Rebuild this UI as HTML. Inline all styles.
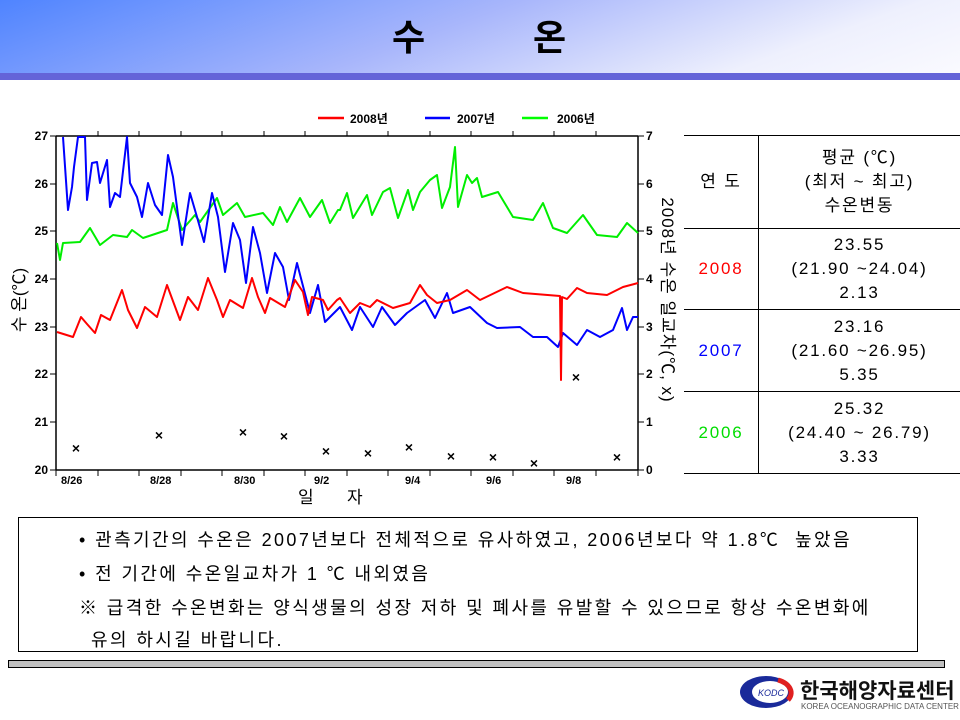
<!DOCTYPE html>
<html><head><meta charset="utf-8"><style>
body{margin:0;width:960px;height:720px;position:relative;background:#fff;overflow:hidden;font-family:"Liberation Sans","Noto Sans CJK KR",sans-serif}
.hdr{position:absolute;left:0;top:0;width:960px;height:73px;background:linear-gradient(160deg,#4f84ff 0%,#a8b6fb 45%,#eef0fd 80%,#fafaff 100%)}
.bar{position:absolute;left:0;top:73px;width:960px;height:7px;background:#6464d8}
.title{position:absolute;top:18px;font-size:36px;font-weight:bold;line-height:40px}
.box{position:absolute;left:18px;top:517px;width:900px;height:135px;border:1px solid #000;box-sizing:border-box}
.box div{position:absolute;font-size:18px;white-space:nowrap;letter-spacing:2.4px}
.gbar{position:absolute;left:8px;top:660px;width:937px;height:8px;background:#c0c0c0;border:1px solid #000;box-sizing:border-box}
table{position:absolute;left:684px;top:135px;border-collapse:collapse;width:276px;font-size:17px;letter-spacing:1.8px}
td{border-top:1px solid #000;border-bottom:1px solid #000;text-align:center;line-height:24px;padding:0}
td.l{border-right:1px solid #000;width:74px}
</style></head><body>
<div class="hdr"></div><div class="bar"></div>
<div class="title" style="left:392px">수</div><div class="title" style="left:533px">온</div>
<svg style="position:absolute;left:0;top:0" width="960" height="520" font-family="Liberation Sans,Noto Sans CJK KR,sans-serif">
<g stroke="#000" stroke-width="1.5" fill="none">
<line x1="56" y1="136" x2="56" y2="470"/><line x1="638" y1="136" x2="638" y2="470"/>
<line x1="56" y1="470" x2="638" y2="470"/><line x1="56" y1="136" x2="638" y2="136"/>
</g>
<g stroke="#000" stroke-width="1">
<path d="M98 470v6M139 470v6M181 470v6M222 470v6M264 470v6M305 470v6M347 470v6M388 470v6M430 470v6M471 470v6M513 470v6M554 470v6M596 470v6M56 470v6M638 470v6
M98 136v-5M139 136v-5M181 136v-5M222 136v-5M264 136v-5M305 136v-5M347 136v-5M388 136v-5M430 136v-5M471 136v-5M513 136v-5M554 136v-5M596 136v-5
M50 136h6M50 184h6M50 231h6M50 279h6M50 327h6M50 374h6M50 422h6M50 470h6
M638 136h6M638 184h6M638 231h6M638 279h6M638 327h6M638 374h6M638 422h6M638 470h6"/>
</g>
<g font-size="12" font-weight="bold" text-anchor="end">
<text x="48" y="140">27</text><text x="48" y="188">26</text><text x="48" y="235">25</text><text x="48" y="283">24</text><text x="48" y="331">23</text><text x="48" y="378">22</text><text x="48" y="426">21</text><text x="48" y="474">20</text>
</g>
<g font-size="12" font-weight="bold">
<text x="646" y="140">7</text><text x="646" y="188">6</text><text x="646" y="235">5</text><text x="646" y="283">4</text><text x="646" y="331">3</text><text x="646" y="378">2</text><text x="646" y="426">1</text><text x="646" y="474">0</text>
</g>
<g font-size="11" font-weight="bold">
<text x="61" y="484">8/26</text><text x="150" y="484">8/28</text><text x="234" y="484">8/30</text><text x="314" y="484">9/2</text><text x="405" y="484">9/4</text><text x="486" y="484">9/6</text><text x="566" y="484">9/8</text>
</g>
<text x="298" y="503" font-size="17">일</text><text x="347" y="503" font-size="17">자</text>
<text transform="translate(25,300) rotate(-90)" font-size="17" text-anchor="middle">수 온(℃)</text>
<text transform="translate(662,300) rotate(90)" font-size="17" text-anchor="middle" letter-spacing="1">2008년 수온 일교차(℃, x)</text>
<g stroke-width="2.5"><line x1="318" y1="118" x2="344" y2="118" stroke="#f00"/><line x1="425" y1="118" x2="450" y2="118" stroke="#00f"/><line x1="522" y1="118" x2="548" y2="118" stroke="#0f0"/></g>
<g font-size="12" font-weight="bold"><text x="350" y="123">2008년</text><text x="457" y="123">2007년</text><text x="557" y="123">2006년</text></g>
<g fill="none" stroke-width="2" stroke-linejoin="round">
<polyline stroke="#0e0" points="57,243 60,260 63,243 80,242 90,228 100,245 113,235 127,237 132,230 143,238 167,230 173,203 182,230 195,215 200,222 217,198 223,215 237,203 245,217 263,213 273,225 280,207 287,222 300,198 310,217 322,200 330,223 338,210 340,210 347,193 353,218 367,195 372,215 383,192 390,188 398,218 408,190 413,210 420,192 430,180 437,175 442,208 450,187 455,147 458,207 467,175 472,183 477,178 482,197 498,192 513,217 533,220 543,203 553,228 567,233 583,215 597,235 617,237 627,223 638,233"/>
<polyline stroke="#00f" points="63,137 68,210 72,187 74,167 78,137 85,137 87,200 92,163 97,162 100,183 107,160 110,207 115,193 120,197 127,137 130,183 137,197 142,217 148,183 155,205 162,215 168,155 173,177 182,245 190,193 197,217 204,242 212,193 218,217 225,272 233,223 240,240 246,283 253,227 260,253 267,293 275,253 283,267 289,300 297,263 310,313 318,285 325,322 337,310 340,307 352,330 360,307 373,327 382,307 395,325 407,313 425,300 435,318 447,293 453,313 470,307 487,323 497,328 520,327 533,337 547,337 558,347 563,333 577,345 587,330 600,337 613,330 622,308 627,330 633,317 638,317"/>
<polyline stroke="#f00" points="57,332 73,337 81,317 87,324 95,333 101,315 110,320 122,290 128,310 137,328 145,307 157,317 167,285 180,320 188,297 198,310 208,278 217,300 223,317 230,300 243,308 252,278 258,297 265,313 270,298 285,307 295,280 303,292 308,315 312,297 323,300 328,310 337,300 340,298 350,313 360,303 370,307 377,300 393,308 410,303 420,285 427,295 437,303 450,300 467,290 480,300 507,287 523,293 560,296 561,380 562,297 567,299 577,288 587,293 607,295 623,287 638,283"/>
</g>
<g font-size="14" font-weight="bold" text-anchor="middle">
<text x="76" y="453">×</text><text x="159" y="440">×</text><text x="243" y="437">×</text><text x="284" y="441">×</text><text x="326" y="456">×</text><text x="368" y="458">×</text><text x="409" y="452">×</text><text x="451" y="461">×</text><text x="493" y="462">×</text><text x="534" y="468">×</text><text x="576" y="382">×</text><text x="617" y="462">×</text>
</g>
</svg>
<table>
<tr style="height:93px"><td class="l">연 도</td><td>평균 (℃)<br>(최저 ~ 최고)<br>수온변동</td></tr>
<tr style="height:81px"><td class="l" style="color:#f00">2008</td><td>23.55<br>(21.90 ~24.04)<br>2.13</td></tr>
<tr style="height:82px"><td class="l" style="color:#00f">2007</td><td>23.16<br>(21.60 ~26.95)<br>5.35</td></tr>
<tr style="height:82px"><td class="l" style="color:#0d0">2006</td><td>25.32<br>(24.40 ~ 26.79)<br>3.33</td></tr>
</table>
<div class="box">
<div style="left:60px;top:8px">• 관측기간의 수온은 2007년보다 전체적으로 유사하였고, 2006년보다 약 1.8℃ &nbsp;높았음</div>
<div style="left:60px;top:42px">• 전 기간에 수온일교차가 1 ℃ 내외였음</div>
<div style="left:60px;top:76px">※ 급격한 수온변화는 양식생물의 성장 저하 및 폐사를 유발할 수 있으므로 항상 수온변화에</div>
<div style="left:72px;top:108px">유의 하시길 바랍니다.</div>
</div>
<div class="gbar"></div>
<svg style="position:absolute;left:738px;top:672px" width="60" height="40"><ellipse cx="28" cy="20" rx="26" ry="16" fill="#1a2a9a"/><ellipse cx="32" cy="20" rx="18" ry="11" fill="#fff"/><path d="M40 8 A22 14 0 0 1 50 28" stroke="#e02020" stroke-width="5" fill="none"/><text x="20" y="24" font-size="9" fill="#1a2a9a" font-style="italic">KODC</text></svg>
<div style="position:absolute;left:800px;top:675px;font-size:21px;font-weight:bold;color:#111">한국해양자료센터</div>
<div style="position:absolute;left:801px;top:702px;font-size:8px;color:#555">KOREA OCEANOGRAPHIC DATA CENTER</div>
</body></html>
